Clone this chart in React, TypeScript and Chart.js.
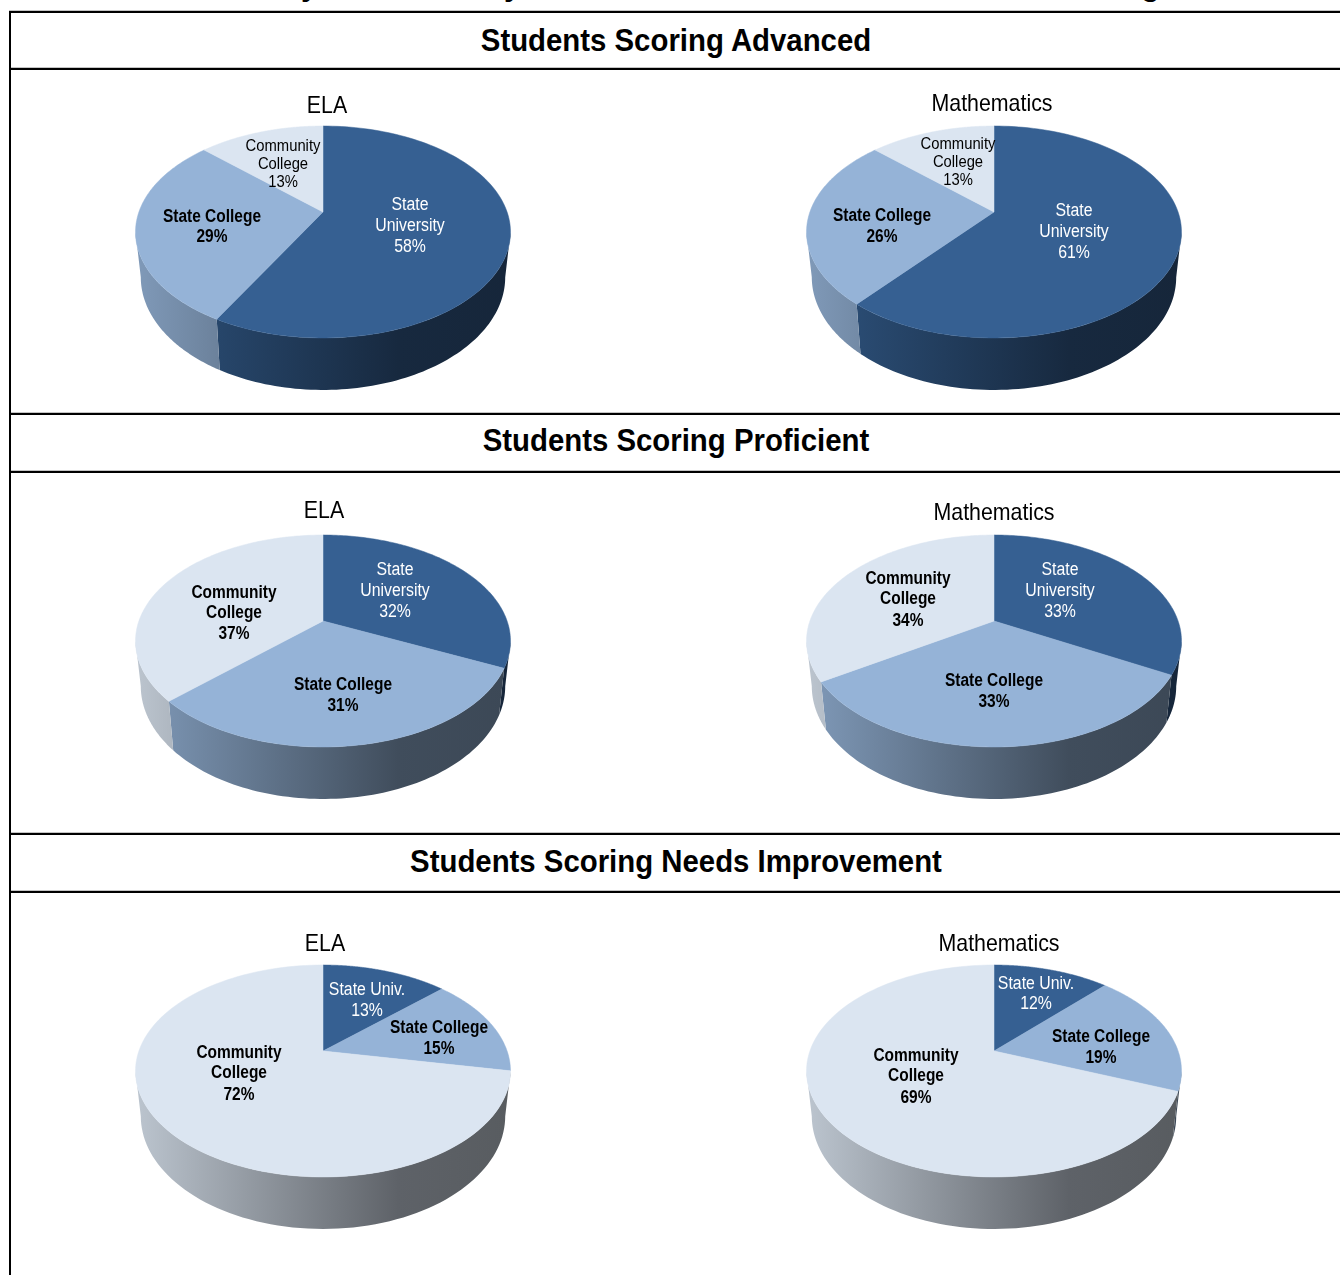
import React, { useEffect, useRef } from "react";
import { Chart, registerables } from "chart.js";

Chart.register(...registerables);

// ---------- data ----------
const categories = ["State University", "State College", "Community College"];
const advancedELA = [58, 29, 13];
const advancedMath = [61, 26, 13];
const proficientELA = [32, 31, 37];
const proficientMath = [33, 33, 34];
const needsELA = [13, 15, 72];
const needsMath = [12, 19, 69];
const sectionTitles = ["Students Scoring Advanced", "Students Scoring Proficient", "Students Scoring Needs Improvement"];
const subjects = ["ELA", "Mathematics"];
const clippedHeadingGlyphs = ["y", "y", "g"];

// ---------- style / layout ----------
const TOP_COLORS = [[54, 96, 146], [149, 179, 215], [219, 229, 241]];
const CANVAS = 400;
const KP = 0.1887; // perspective of the pie's top face
const SX = 184.1 / 200;
const SY = 102.2 / 200;
const BOTTOM = { sx: 0.972, sy: 1.065, dy: 43.8 / 200 };
const FONT = '"Liberation Sans", Arial, sans-serif';
const WIDTH_BOLD = 0.86;
const WIDTH_REGULAR = 0.88;
const WIDTH_SMALL = 0.925;
const WIDTH_TITLE = 0.89;
const glyphLeft = [301, 504, 1141];

type Lbl = { x: number; y: number[]; size: number; bold: boolean; color: string; lines: string[] };
const LBL = (x: number, y: number[], size: number, bold: boolean, color: string, lines: string[]): Lbl => ({ x, y, size, bold, color, lines });

const pieLayouts = [
  { apex: [323, 212], title: [327, 105], labels: [
    LBL(410, [204, 225, 246], 18, false, "#fff", ["State", "University"]),
    LBL(212, [216, 236], 18, true, "#000", ["State College"]),
    LBL(283, [146, 164, 182], 16, false, "#000", ["Community", "College"]) ] },
  { apex: [994, 212], title: [992, 103], labels: [
    LBL(1074, [210, 231, 252], 18, false, "#fff", ["State", "University"]),
    LBL(882, [215, 236], 18, true, "#000", ["State College"]),
    LBL(958, [144, 162, 180], 16, false, "#000", ["Community", "College"]) ] },
  { apex: [323, 621], title: [324, 510], labels: [
    LBL(395, [569, 590, 611], 18, false, "#fff", ["State", "University"]),
    LBL(343, [684, 705], 18, true, "#000", ["State College"]),
    LBL(234, [592, 612, 633], 18, true, "#000", ["Community", "College"]) ] },
  { apex: [994, 621], title: [994, 512], labels: [
    LBL(1060, [569, 590, 611], 18, false, "#fff", ["State", "University"]),
    LBL(994, [680, 701], 18, true, "#000", ["State College"]),
    LBL(908, [578, 598, 620], 18, true, "#000", ["Community", "College"]) ] },
  { apex: [323, 1051], title: [325, 943], labels: [
    LBL(367, [989, 1010], 18, false, "#fff", ["State Univ."]),
    LBL(439, [1027, 1048], 18, true, "#000", ["State College"]),
    LBL(239, [1052, 1072, 1094], 18, true, "#000", ["Community", "College"]) ] },
  { apex: [994, 1051], title: [999, 943], labels: [
    LBL(1036, [983, 1003], 18, false, "#fff", ["State Univ."]),
    LBL(1101, [1036, 1057], 18, true, "#000", ["State College"]),
    LBL(916, [1055, 1075, 1097], 18, true, "#000", ["Community", "College"]) ] },
];
const pieValues = [advancedELA, advancedMath, proficientELA, proficientMath, needsELA, needsMath];

const rgb = (c: number[], f = 1) => `rgb(${c.map((v) => Math.round(v * f)).join(",")})`;

function squeezedText(ctx: CanvasRenderingContext2D, text: string, x: number, y: number, factor: number) {
  ctx.save();
  ctx.translate(x, y);
  ctx.scale(factor, 1);
  ctx.fillText(text, 0, 0);
  ctx.restore();
}

const pie3d = {
  id: "pie3d",
  beforeDatasetsDraw(chart: any, _a: any, opts: any) {
    const ctx: CanvasRenderingContext2D = chart.ctx;
    const arcs = chart.getDatasetMeta(0).data;
    const values: number[] = chart.data.datasets[0].data;
    if (!arcs.length) return false;
    const cx = arcs[0].x, cy = arcs[0].y, R = arcs[0].outerRadius;
    const top = (t: number): [number, number] => {
      const u = Math.sin(t), v = -Math.cos(t), d = 1 - KP * v;
      return [cx + (SX * R * u) / d, cy + (SY * R * v) / d];
    };
    const bot = (t: number): [number, number] => {
      const u = Math.sin(t), v = -Math.cos(t), d = 1 - KP * v;
      return [cx + (BOTTOM.sx * SX * R * u) / d, cy + BOTTOM.dy * R + (BOTTOM.sy * SY * R * v) / d];
    };
    const WMIN = (101 * Math.PI) / 180, WMAX = (259 * Math.PI) / 180;
    // side wall
    arcs.forEach((el: any, i: number) => {
      const a = Math.max(el.startAngle + Math.PI / 2, WMIN);
      const b = Math.min(el.endAngle + Math.PI / 2, WMAX);
      if (b <= a) return;
      const g = ctx.createLinearGradient(cx - 0.94 * R, 0, cx + 0.94 * R, 0);
      g.addColorStop(0, rgb(TOP_COLORS[i], 0.86));
      g.addColorStop(0.7, rgb(TOP_COLORS[i], 0.43));
      g.addColorStop(1, rgb(TOP_COLORS[i], 0.4));
      ctx.beginPath();
      const n = 80;
      for (let k = 0; k <= n; k++) {
        const p = top(a + ((b - a) * k) / n);
        k ? ctx.lineTo(p[0], p[1]) : ctx.moveTo(p[0], p[1]);
      }
      for (let k = n; k >= 0; k--) {
        const p = bot(a + ((b - a) * k) / n);
        ctx.lineTo(p[0], p[1]);
      }
      ctx.closePath();
      ctx.fillStyle = g;
      ctx.fill();
    });
    // top face
    arcs.forEach((el: any, i: number) => {
      const a = el.startAngle + Math.PI / 2, b = el.endAngle + Math.PI / 2;
      ctx.beginPath();
      ctx.moveTo(cx, cy);
      const n = 120;
      for (let k = 0; k <= n; k++) {
        const p = top(a + ((b - a) * k) / n);
        ctx.lineTo(p[0], p[1]);
      }
      ctx.closePath();
      ctx.fillStyle = rgb(TOP_COLORS[i]);
      ctx.strokeStyle = rgb(TOP_COLORS[i]);
      ctx.lineWidth = 0.5;
      ctx.fill();
      ctx.stroke();
    });
    // text
    const ox = opts.layout.apex[0] - cx, oy = opts.layout.apex[1] - cy;
    ctx.textAlign = "center";
    ctx.textBaseline = "middle";
    ctx.fillStyle = "#000";
    ctx.font = `24px ${FONT}`;
    squeezedText(ctx, opts.subject, opts.layout.title[0] - ox, opts.layout.title[1] - oy + 1, WIDTH_TITLE);
    opts.layout.labels.forEach((l: Lbl, i: number) => {
      ctx.font = `${l.bold ? "bold " : ""}${l.size}px ${FONT}`;
      ctx.fillStyle = l.color;
      const factor = l.bold ? WIDTH_BOLD : l.size < 18 ? WIDTH_SMALL : WIDTH_REGULAR;
      const lines = [...l.lines, `${values[i]}%`];
      lines.forEach((t, j) => squeezedText(ctx, t, l.x - ox, l.y[j] - oy + 1, factor));
    });
    return false;
  },
};

function Pie({ index }: { index: number }) {
  const ref = useRef<HTMLCanvasElement | null>(null);
  const layout = pieLayouts[index];
  useEffect(() => {
    const chart = new Chart(ref.current as HTMLCanvasElement, {
      type: "pie",
      data: { labels: categories, datasets: [{ data: pieValues[index], backgroundColor: TOP_COLORS.map((c) => rgb(c)), borderWidth: 0 }] },
      options: {
        responsive: false,
        animation: false,
        layout: { padding: 0 },
        plugins: {
          legend: { display: false },
          tooltip: { enabled: false },
          pie3d: { layout, subject: subjects[index % 2] },
        } as any,
      },
      plugins: [pie3d as any],
    });
    return () => chart.destroy();
  }, []);
  return (
    <canvas
      ref={ref}
      width={CANVAS}
      height={CANVAS}
      style={{ position: "absolute", left: layout.apex[0] - CANVAS / 2, top: layout.apex[1] - CANVAS / 2, width: CANVAS, height: CANVAS }}
    />
  );
}

const hLine = (y: number): React.CSSProperties => ({ position: "absolute", left: 9, right: 0, top: y, height: 2, background: "#000", boxShadow: "0 -1px 0 #c4c4c4" });
const sectionY = [41, 441, 862];
const lineY = [11, 68, 413, 471, 833, 891];

export default function App() {
  return (
    <div style={{ position: "absolute", left: 0, top: 0, width: 1340, height: 1275, overflow: "hidden", background: "#fff", fontFamily: FONT }}>
      {clippedHeadingGlyphs.map((g, i) => (
        <div key={i} style={{ position: "absolute", left: glyphLeft[i], top: -30, height: 30, lineHeight: "30px", fontSize: 31, fontWeight: "bold", color: "#000" }}>{g}</div>
      ))}
      {lineY.map((y) => <div key={y} style={hLine(y)} />)}
      <div style={{ position: "absolute", left: 9, top: 11, bottom: 0, width: 2, background: "#000" }} />
      {sectionTitles.map((t, i) => (
        <div key={t} style={{ position: "absolute", left: 10, width: 1332, top: sectionY[i] - 20, height: 40, lineHeight: "40px", textAlign: "center", fontWeight: "bold", fontSize: 31, color: "#000", whiteSpace: "nowrap", transform: "scaleX(0.947)" }}>{t}</div>
      ))}
      {pieLayouts.map((_, i) => <Pie key={i} index={i} />)}
    </div>
  );
}
